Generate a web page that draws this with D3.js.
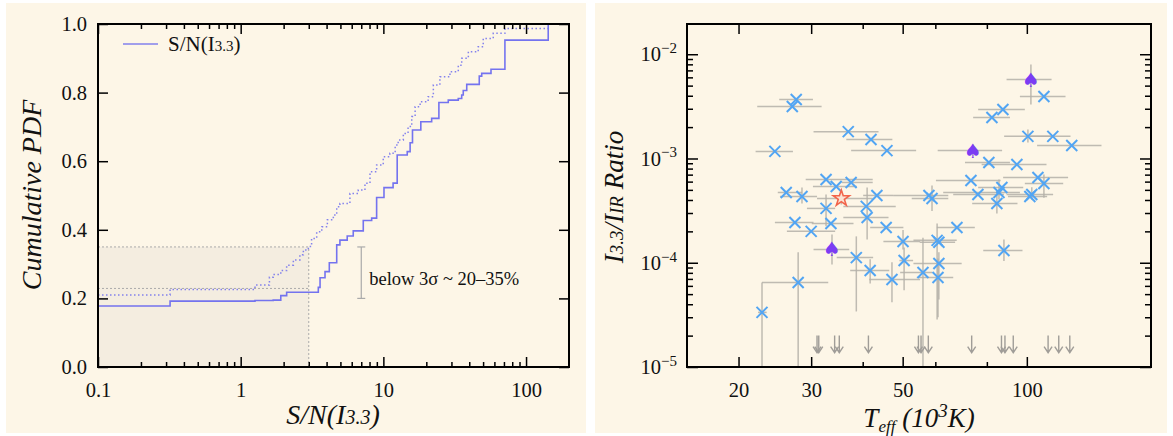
<!DOCTYPE html>
<html>
<head>
<meta charset="utf-8">
<script src="https://cdn.jsdelivr.net/npm/d3@7"></script>
<style>
body { margin: 0; background: #fff; }
svg text { font-family: "Liberation Serif", "DejaVu Serif", serif; fill: #111; }
</style>
</head>
<body>
<svg id="fig" width="1173" height="436"></svg>
<script>
// LEFT PANEL DATA
// cumulative fraction of sources vs S/N(I3.3), solid and dotted curves
var snSolid = [0.1, 0.32, 1.26, 1.69, 1.91, 2.10, 3.50, 3.60, 3.90, 4.18,
    4.71, 4.96, 5.58, 6.15, 7.23, 8.28, 8.97, 10.1, 11.7, 12.5,
    14.7, 15.4, 16.0, 18.3, 21.8, 24.5, 28.5, 33.5, 35.4, 36.3,
    38.4, 47.0, 48.9, 56.8, 71.1, 143];
var cdfSolid = [0.178, 0.192, 0.194, 0.195, 0.208, 0.218, 0.232, 0.260, 0.278, 0.304,
    0.356, 0.370, 0.382, 0.397, 0.427, 0.434, 0.494, 0.523, 0.536, 0.618,
    0.628, 0.654, 0.691, 0.715, 0.725, 0.771, 0.778, 0.783, 0.793, 0.806,
    0.824, 0.848, 0.856, 0.868, 0.953, 1.0];

var snDot = [0.1, 0.32, 1.26, 1.59, 1.69, 1.91, 2.10, 2.34, 2.60, 2.75,
    2.98, 3.14, 3.41, 3.70, 4.05, 4.46, 4.71, 4.96, 5.83, 6.67,
    7.43, 8.06, 8.97, 9.98, 11.1, 12.1, 12.7, 13.8, 14.9, 15.8,
    16.7, 18.1, 20.6, 22.4, 24.9, 29.3, 33.5, 35.4, 39.4, 46.2,
    50.1, 58.9, 71.1, 143];
var cdfDot = [0.210, 0.226, 0.239, 0.262, 0.270, 0.281, 0.297, 0.312, 0.327, 0.341,
    0.351, 0.375, 0.394, 0.409, 0.429, 0.443, 0.467, 0.477, 0.506, 0.516,
    0.536, 0.569, 0.589, 0.613, 0.623, 0.647, 0.662, 0.681, 0.701, 0.730,
    0.759, 0.773, 0.788, 0.822, 0.846, 0.861, 0.880, 0.900, 0.919, 0.934,
    0.958, 0.973, 0.987, 0.987];

var snCut = 3;               // 3 sigma cut
var fracBand = [0.229, 0.35]; // fraction below cut (dotted guides)
var bracketSN = 7.0, bracketFrac = [0.20, 0.35];

var snMajor = [0.1, 1, 10, 100];
var fracTicks = [0, 0.2, 0.4, 0.6, 0.8, 1.0];

// RIGHT PANEL DATA
// Teff (10^3 K), ratio, Teff error range, ratio error range (null = none), marker kind
var teff =    [27.6, 27.0, 36.9, 41.9, 45.8, 24.5, 32.6, 34.5, 37.5, 26.1,
    28.5, 35.5, 43.3, 32.6, 40.8, 41.0, 27.4, 33.5, 30.0, 45.6,
    50.1, 33.7, 38.6, 50.4, 41.7, 47.1, 27.9, 22.8, 102.3, 110.0,
    87.5, 82.3, 100.6, 115.6, 128.5, 74.0, 80.9, 94.6, 73.2, 106.4,
    110.0, 87.0, 85.6, 76.1, 102.8, 101.7, 84.6, 57.9, 58.9, 67.7,
    60.6, 61.2, 88.0, 61.2, 56.0, 60.9];
var ratio =   [3.68e-3, 3.15e-3, 1.81e-3, 1.52e-3, 1.19e-3, 1.17e-3, 6.29e-4, 5.39e-4, 5.89e-4, 4.72e-4,
    4.32e-4, 4.14e-4, 4.42e-4, 3.32e-4, 3.47e-4, 2.72e-4, 2.43e-4, 2.38e-4, 2.00e-4, 2.18e-4,
    1.60e-4, 1.34e-4, 1.12e-4, 1.05e-4, 8.44e-5, 6.91e-5, 6.47e-5, 3.34e-5, 5.72e-3, 3.93e-3,
    2.95e-3, 2.47e-3, 1.63e-3, 1.63e-3, 1.33e-3, 1.19e-3, 9.15e-4, 8.76e-4, 6.15e-4, 6.57e-4,
    5.76e-4, 5.27e-4, 4.72e-4, 4.52e-4, 4.52e-4, 4.32e-4, 3.70e-4, 4.42e-4, 4.14e-4, 2.18e-4,
    1.64e-4, 1.57e-4, 1.31e-4, 9.85e-5, 8.07e-5, 7.23e-5];
var teffLo =  [25.1, 22.2, 30.4, 36.5, 37.5, 22.0, 29.1, 30.3, 35.6, 24.9,
    25.2, 31.0, 40.1, 29.3, 35.9, 35.9, 24.5, 30.1, 26.2, 41.7,
    44.9, 30.4, 34.6, 49.1, 37.3, 41.5, 22.8, 22.3, 89.3, 96.2,
    76.2, 74.1, 88.1, 101.7, 105.9, 60.8, 70.8, 77.7, 60.2, 87.6,
    98.9, 76.2, 62.7, 66.3, 89.3, 90.0, 73.7, 47.4, 52.6, 60.5,
    53.1, 55.0, 78.4, 53.1, 49.3, 54.1];
var teffHi =  [30.3, 31.8, 43.7, 47.2, 53.9, 27.1, 42.3, 38.7, 42.3, 28.5,
    31.0, 42.3, 47.4, 34.3, 48.1, 46.2, 30.4, 38.0, 34.3, 50.2,
    55.1, 37.1, 42.4, 53.0, 46.4, 55.1, 33.0, 23.4, 114.8, 124.1,
    98.9, 91.0, 115.8, 127.6, 151.7, 87.1, 91.0, 111.6, 86.4, 125.9,
    122.5, 98.0, 96.2, 88.0, 115.8, 112.0, 94.9, 64.5, 64.5, 74.8,
    67.6, 67.0, 97.6, 69.5, 58.9, 66.3];
var ratioLo = [null, null, null, null, null, null, null, null, null, null,
    3.70e-4, 3.62e-4, null, 2.24e-4, null, 1.67e-4, null, null, null, null,
    1.34e-4, 9.63e-5, 3.41e-5, 5.46e-5, 6.33e-5, 4.19e-5, 1e-5, 1e-5, 3.29e-3, null,
    null, null, 1.42e-3, null, null, 1.05e-3, null, null, null, null,
    4.20e-4, null, 4.05e-4, null, 4.05e-4, null, 2.97e-4, null, 3.13e-4, null,
    2.86e-5, null, 1.04e-4, 4.45e-5, 1e-5, 3.0e-5];
var ratioHi = [null, null, null, null, null, null, null, null, null, null,
    5.27e-4, 4.86e-4, null, 4.52e-4, null, 5.27e-4, null, null, null, null,
    2.06e-4, 1.87e-4, 1.79e-4, 1.40e-4, 1.08e-4, 1.01e-4, 1.26e-4, 6.47e-5, 7.96e-3, null,
    null, null, 1.90e-3, null, null, 1.36e-3, null, null, null, null,
    7.02e-4, null, 6.29e-4, null, 5.30e-4, null, 4.86e-4, null, 5.51e-4, null,
    2.38e-4, null, 1.67e-4, 1.26e-4, 1.74e-4, 1.10e-4];
var kind = ["x", "x", "x", "x", "x", "x", "x", "x", "x", "x",
    "x", "star", "x", "x", "x", "x", "x", "x", "x", "x",
    "x", "spade", "x", "x", "x", "x", "x", "x", "spade", "x",
    "x", "x", "x", "x", "x", "spade", "x", "x", "x", "x",
    "x", "x", "x", "x", "x", "x", "x", "x", "x", "x",
    "x", "x", "x", "x", "x", "x"];

// upper limits (drawn as arrows)
var ulTeff = [31.0, 31.3, 34.2, 35.1, 41.3, 54.6, 55.4, 57.7, 73.5, 86.8, 88.5, 92.7, 112.6, 119.5, 127.1];
var ulRatio = 2e-5;

var teffMajor = [20, 30, 50, 100];
var teffMinor = [40, 60, 80];
var ratioMajor = [1e-5, 1e-4, 1e-3, 1e-2];

// COLOURS
var cream = "#fdf6e7",
    curveColor = "#6565ef",
    crossColor = "#52a5f3",
    spadeColor = "#7b3df3",
    starColor = "#f2644a",
    errColor = "#b4b0a8";

var svg = d3.select("#fig");

// panel backgrounds
svg.append("rect").attr("x", 6).attr("y", 3).attr("width", 580).attr("height", 430).attr("fill", cream);
svg.append("rect").attr("x", 595).attr("y", 3).attr("width", 572).attr("height", 430).attr("fill", cream);

// ---------------- LEFT PANEL ----------------
var xL = d3.scaleLog().domain([0.1, 200]).range([98, 569]);
var yL = d3.scaleLinear().domain([0, 1]).range([367, 24]);

var left = svg.append("g");

// shaded region below 3 sigma
left.append("rect")
    .attr("x", xL(0.1)).attr("y", yL(fracBand[1]))
    .attr("width", xL(snCut) - xL(0.1))
    .attr("height", yL(0) - yL(fracBand[1]))
    .attr("fill", "#f4ede0");

fracBand.forEach(function(f) {
    left.append("line")
        .attr("x1", xL(0.1)).attr("x2", xL(snCut))
        .attr("y1", yL(f)).attr("y2", yL(f))
        .attr("stroke", "#aaa").attr("stroke-width", 1).attr("stroke-dasharray", "2,2");
});
left.append("line")
    .attr("x1", xL(snCut)).attr("x2", xL(snCut))
    .attr("y1", yL(0)).attr("y2", yL(fracBand[1]))
    .attr("stroke", "#aaa").attr("stroke-width", 1).attr("stroke-dasharray", "2,2");

// curves
var stepLine = d3.line()
    .x(function(d) { return xL(d[0]); })
    .y(function(d) { return yL(d[1]); })
    .curve(d3.curveStepAfter);

left.append("path")
    .datum(d3.zip(snDot, cdfDot))
    .attr("d", stepLine)
    .attr("fill", "none").attr("stroke", curveColor).attr("stroke-opacity", 0.8)
    .attr("stroke-width", 1.5).attr("stroke-dasharray", "1.5,2.5");

left.append("path")
    .datum(d3.zip(snSolid, cdfSolid))
    .attr("d", stepLine)
    .attr("fill", "none").attr("stroke", curveColor).attr("stroke-opacity", 0.9)
    .attr("stroke-width", 1.6);

// bracket 20-35%
var bx = xL(bracketSN);
left.append("line").attr("x1", bx).attr("x2", bx)
    .attr("y1", yL(bracketFrac[0])).attr("y2", yL(bracketFrac[1]))
    .attr("stroke", "#aaa").attr("stroke-width", 1.2);
bracketFrac.forEach(function(f) {
    left.append("line").attr("x1", bx - 4).attr("x2", bx + 4)
        .attr("y1", yL(f)).attr("y2", yL(f))
        .attr("stroke", "#aaa").attr("stroke-width", 1.2);
});
left.append("text")
    .attr("x", bx + 8).attr("y", 285)
    .style("font-size", "18.5px")
    .text("below 3σ ~ 20–35%");

// axes
function minorLog(lo, hi) {
    var out = [];
    for (var e = Math.floor(Math.log10(lo)); e <= Math.ceil(Math.log10(hi)); e++) {
        for (var m = 2; m <= 9; m++) {
            var v = m * Math.pow(10, e);
            if (v > lo && v < hi) out.push(v);
        }
    }
    return out;
}

function styleAxis(g) {
    g.select(".domain").remove();
    g.selectAll(".tick line").attr("stroke", "#000").attr("stroke-width", 1.5);
    g.selectAll("text").style("font-size", "20.5px").attr("fill", "#111")
        .style("font-family", "'Liberation Serif', serif");
}

var snMinor = minorLog(0.1, 200);

left.append("g").attr("transform", "translate(0,367)")
    .call(d3.axisBottom(xL).tickValues(snMajor).tickSize(-10).tickPadding(15)
        .tickFormat(function(d) { return d < 1 ? "0.1" : d3.format("d")(d); }))
    .call(styleAxis);
left.append("g").attr("transform", "translate(0,367)")
    .call(d3.axisBottom(xL).tickValues(snMinor).tickSize(-5).tickFormat(""))
    .call(styleAxis);
left.append("g").attr("transform", "translate(0,24)")
    .call(d3.axisTop(xL).tickValues(snMajor).tickSize(-10).tickFormat(""))
    .call(styleAxis);
left.append("g").attr("transform", "translate(0,24)")
    .call(d3.axisTop(xL).tickValues(snMinor).tickSize(-5).tickFormat(""))
    .call(styleAxis);
left.append("g").attr("transform", "translate(98,0)")
    .call(d3.axisLeft(yL).tickValues(fracTicks).tickSize(-10).tickPadding(11).tickFormat(d3.format(".1f")))
    .call(styleAxis);
left.append("g").attr("transform", "translate(569,0)")
    .call(d3.axisRight(yL).tickValues(fracTicks).tickSize(-10).tickFormat(""))
    .call(styleAxis);

left.append("rect")
    .attr("x", 98).attr("y", 24).attr("width", 569 - 98).attr("height", 367 - 24)
    .attr("fill", "none").attr("stroke", "#000").attr("stroke-width", 2);

// legend
left.append("line").attr("x1", 123).attr("x2", 158).attr("y1", 44).attr("y2", 44)
    .attr("stroke", curveColor).attr("stroke-opacity", 0.8).attr("stroke-width", 1.5);
var leg = left.append("text").attr("x", 168).attr("y", 51).style("font-size", "21px");
leg.append("tspan").text("S/N(I");
leg.append("tspan").style("font-size", "15px").text("3.3");
leg.append("tspan").text(")");

// labels
var lx = left.append("text")
    .attr("x", 333).attr("y", 424).attr("text-anchor", "middle")
    .style("font-size", "28px").style("font-style", "italic");
lx.append("tspan").text("S/N(I");
lx.append("tspan").style("font-size", "20px").text("3.3");
lx.append("tspan").text(")");

left.append("text")
    .attr("transform", "translate(41,195) rotate(-90)")
    .attr("text-anchor", "middle")
    .style("font-size", "28px").style("font-style", "italic")
    .text("Cumulative PDF");

// ---------------- RIGHT PANEL ----------------
var xR = d3.scaleLog().domain([15, 200]).range([687, 1151]);
var yR = d3.scaleLog().domain([1e-5, 0.0195]).range([367, 24]).clamp(true);

var right = svg.append("g");

var pts = d3.range(teff.length).map(function(i) {
    return { t: teff[i], r: ratio[i], tlo: teffLo[i], thi: teffHi[i],
             rlo: ratioLo[i], rhi: ratioHi[i], kind: kind[i] };
});

// error bars
var eb = right.append("g").attr("stroke", errColor).attr("stroke-width", 1.5).attr("stroke-opacity", 0.85);
pts.forEach(function(p) {
    eb.append("line")
        .attr("x1", xR(p.tlo)).attr("x2", xR(p.thi))
        .attr("y1", yR(p.r)).attr("y2", yR(p.r));
    if (p.rlo !== null) {
        eb.append("line")
            .attr("x1", xR(p.t)).attr("x2", xR(p.t))
            .attr("y1", yR(p.rlo)).attr("y2", yR(p.rhi));
    }
});

// upper limits
var ul = right.append("g").attr("stroke", "#a09d98").attr("stroke-width", 1.4).attr("fill", "none");
ulTeff.forEach(function(t) {
    var x = xR(t), y0 = yR(ulRatio), y1 = y0 + 17;
    ul.append("path")
        .attr("d", "M" + x + "," + y0 + "V" + y1 + "M" + (x - 4) + "," + (y1 - 6) + "L" + x + "," + y1 + "L" + (x + 4) + "," + (y1 - 6));
});

// markers
var mk = right.append("g");
pts.forEach(function(p) {
    var x = xR(p.t), y = yR(p.r);
    if (p.kind === "x") {
        var s = 5.5;
        mk.append("path")
            .attr("d", "M" + (x - s) + "," + (y - s) + "L" + (x + s) + "," + (y + s) +
                       "M" + (x - s) + "," + (y + s) + "L" + (x + s) + "," + (y - s))
            .attr("stroke", crossColor).attr("stroke-width", 2).attr("fill", "none");
    } else if (p.kind === "spade") {
        mk.append("text")
            .attr("x", x).attr("y", y + 7).attr("text-anchor", "middle")
            .style("font-family", "'DejaVu Sans', sans-serif").style("font-size", "20px")
            .attr("fill", spadeColor).style("fill", spadeColor)
            .text("♠");
    } else {
        mk.append("path")
            .attr("d", d3.symbol().type(d3.symbolStar).size(80)())
            .attr("transform", "translate(" + x + "," + y + ")")
            .attr("fill", "#fbe3d3").attr("stroke", starColor).attr("stroke-width", 1.6);
    }
});

// axes
var ratioMinor = minorLog(1e-5, 0.0195);

right.append("g").attr("transform", "translate(0,367)")
    .call(d3.axisBottom(xR).tickValues(teffMajor).tickSize(-10).tickPadding(15).tickFormat(d3.format("d")))
    .call(styleAxis);
right.append("g").attr("transform", "translate(0,367)")
    .call(d3.axisBottom(xR).tickValues(teffMinor).tickSize(-5).tickFormat(""))
    .call(styleAxis);
right.append("g").attr("transform", "translate(0,24)")
    .call(d3.axisTop(xR).tickValues(teffMajor).tickSize(-10).tickFormat(""))
    .call(styleAxis);
right.append("g").attr("transform", "translate(0,24)")
    .call(d3.axisTop(xR).tickValues(teffMinor).tickSize(-5).tickFormat(""))
    .call(styleAxis);

var yAxisL = right.append("g").attr("transform", "translate(687,0)")
    .call(d3.axisLeft(yR).tickValues(ratioMajor).tickSize(-11).tickPadding(10).tickFormat(""))
    .call(styleAxis);
yAxisL.selectAll(".tick text").each(function(d) {
    var t = d3.select(this);
    t.append("tspan").text("10");
    t.append("tspan").attr("dy", "-0.55em").style("font-size", "15px")
        .text("−" + Math.round(-Math.log10(d)));
});
right.append("g").attr("transform", "translate(687,0)")
    .call(d3.axisLeft(yR).tickValues(ratioMinor).tickSize(-6).tickFormat(""))
    .call(styleAxis);
right.append("g").attr("transform", "translate(1151,0)")
    .call(d3.axisRight(yR).tickValues(ratioMajor).tickSize(-11).tickFormat(""))
    .call(styleAxis);
right.append("g").attr("transform", "translate(1151,0)")
    .call(d3.axisRight(yR).tickValues(ratioMinor).tickSize(-6).tickFormat(""))
    .call(styleAxis);

right.append("rect")
    .attr("x", 687).attr("y", 24).attr("width", 1151 - 687).attr("height", 367 - 24)
    .attr("fill", "none").attr("stroke", "#000").attr("stroke-width", 2);

// labels
var rx = right.append("text")
    .attr("x", 919).attr("y", 427).attr("text-anchor", "middle")
    .style("font-size", "27px").style("font-style", "italic");
rx.append("tspan").text("T");
rx.append("tspan").attr("dy", "5").style("font-size", "17px").text("eff");
rx.append("tspan").attr("dy", "-5").text(" (10");
rx.append("tspan").attr("dy", "-10").style("font-size", "19px").text("3");
rx.append("tspan").attr("dy", "10").text("K)");

var ry = right.append("text")
    .attr("transform", "translate(623,197) rotate(-90)")
    .attr("text-anchor", "middle")
    .style("font-size", "27px").style("font-style", "italic");
ry.append("tspan").text("I");
ry.append("tspan").style("font-size", "19px").text("3.3");
ry.append("tspan").text("/I");
ry.append("tspan").style("font-size", "19px").text("IR");
ry.append("tspan").text(" Ratio");
</script>
</body>
</html>
